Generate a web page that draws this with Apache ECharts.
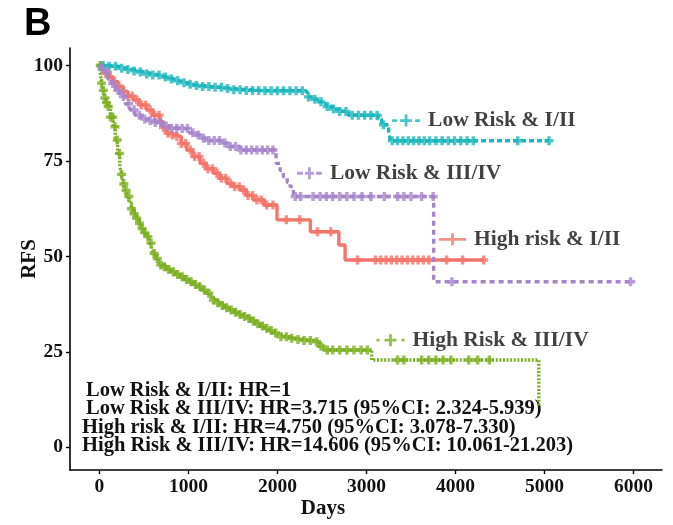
<!DOCTYPE html>
<html>
<head>
<meta charset="utf-8">
<script src="https://cdn.jsdelivr.net/npm/echarts@6/dist/echarts.min.js"></script>
<style>
html,body{margin:0;padding:0;background:#fff;}
#chart{width:673px;height:525px;}
</style>
</head>
<body>
<div id="chart"></div>
<script>
// ---------------- DATA ----------------
const xTicks = [0, 1000, 2000, 3000, 4000, 5000, 6000];
const yTicks = [0, 25, 50, 75, 100];

const groupNames = ['High risk & I/II', 'High Risk & III/IV', 'Low Risk & I/II', 'Low Risk & III/IV'];

// Kaplan-Meier curves: [days, RFS %] (value after the step at that time)
const redCurve = [[0,100],[30,99],[62,98],[100,97],[155,95.8],[210,94.5],[268,93.2],[320,92],[380,91],[450,89.7],[531,88.4],[600,87],[680,85.3],[720,83.8],[756,82.3],[810,81.8],[868,81.4],[920,79.6],[981,77.9],[1050,76.2],[1130,74.4],[1200,73],[1280,71.8],[1350,70.5],[1431,69.2],[1500,68.3],[1580,67.4],[1650,66],[1730,64.8],[1850,63.5],[1995,59.6],[2370,56.5],[2690,53],[2760,49.1],[4320,49.1]];
const greenCurve = [[0,100],[12,97.5],[25,95.4],[45,93.5],[62,91.5],[80,90.3],[99,89.3],[125,86.5],[155,84],[180,80.5],[205,77],[230,73.5],[250,71.5],[270,69],[290,67.3],[306,65.7],[335,64],[360,62.5],[390,61.2],[418,60],[445,58.7],[475,57.3],[505,56.2],[531,55.2],[560,53.5],[585,52],[605,50.8],[635,49.5],[665,48.3],[690,47.8],[718,47.3],[760,46.6],[810,46],[860,45.3],[905,44.7],[955,44],[1000,43.4],[1050,42.7],[1093,42.1],[1140,41.2],[1190,40.4],[1240,39.5],[1280,38.6],[1330,37.9],[1380,37.2],[1420,36.6],[1468,36],[1515,35.4],[1560,34.8],[1610,34.3],[1656,33.8],[1700,33.1],[1750,32.4],[1800,31.8],[1842,31.2],[1890,30.6],[1940,30],[1990,29.5],[2030,29],[2120,28.6],[2200,28.3],[2300,28],[2405,27.7],[2470,26.5],[2520,25.5],[3060,22.9],[4936,10.6]];
const tealCurve = [[0,100],[100,99.8],[200,99.3],[300,99],[380,98.6],[450,98.3],[530,97.8],[600,97.5],[680,97],[750,96.5],[830,96],[900,95.5],[980,95.1],[1050,94.8],[1150,94.5],[1250,94.3],[1380,94],[1500,93.7],[1650,93.5],[1800,93.4],[2300,93.2],[2335,91.8],[2400,91.2],[2450,90.5],[2500,89.9],[2550,89.3],[2620,88.6],[2700,88],[2800,87],[3130,86],[3170,84.5],[3250,82.5],[3270,80.3],[5050,80.3]];
const purpleCurve = [[0,100],[30,99.2],[60,98.2],[95,96.5],[137,95.3],[180,93.5],[230,91.9],[290,90],[343,88.4],[400,87],[470,86],[531,85.6],[600,85.1],[700,84.2],[793,83.6],[905,83.5],[1000,82.4],[1060,81.8],[1130,81],[1230,80.4],[1355,79.7],[1460,78.8],[1580,77.9],[1985,74.4],[2030,72.5],[2067,70.9],[2110,69.4],[2143,68.3],[2180,65.7],[3755,43.4],[5970,43.4]];

// censoring times (days)
const redCensor = [20,70,120,170,220,270,320,370,420,470,520,570,620,670,720,770,820,870,920,970,1020,1070,1120,1170,1220,1270,1320,1370,1420,1470,1520,1570,1620,1670,1720,1770,1820,1880,1950,2100,2250,2450,2600,2900,3100,3160,3220,3280,3340,3400,3460,3520,3580,3640,3700,3900,4080,4317];
const greenCensor = [10,25,45,62,80,99,125,150,175,200,225,250,275,300,330,360,390,420,450,480,510,545,580,615,650,690,730,780,830,880,930,980,1030,1080,1130,1180,1230,1280,1330,1380,1430,1480,1530,1580,1630,1680,1730,1780,1830,1880,1930,1980,2040,2100,2160,2230,2300,2370,2440,2490,2560,2620,2700,2780,2860,2940,3010,3350,3420,3620,3700,3780,3860,3950,4150,4250,4380];
const tealCensor = [40,110,180,250,320,390,460,530,600,670,740,810,880,950,1020,1090,1160,1230,1300,1370,1440,1510,1580,1650,1720,1790,1860,1930,2000,2070,2140,2210,2280,2350,2420,2490,2560,2630,2700,2770,2840,2910,2980,3050,3120,3190,3290,3350,3410,3470,3530,3590,3650,3710,3780,3850,3920,3990,4060,4130,4200,4700,5050];
const purpleCensor = [30,90,150,210,270,330,390,450,510,570,630,690,750,810,870,930,990,1050,1110,1170,1230,1290,1350,1410,1470,1530,1590,1650,1710,1770,1830,1890,1950,2200,2260,2400,2480,2550,2620,2700,2780,2860,2950,3050,3200,3350,3420,3500,3620,3750,3960,5967];

const hrLines = [
  'Low Risk & I/II: HR=1',
  'Low Risk & III/IV: HR=3.715 (95%CI: 2.324-5.939)',
  'High risk & I/II: HR=4.750 (95%CI: 3.078-7.330)',
  'High Risk & III/IV: HR=14.606 (95%CI: 10.061-21.203)'
];

// ---------------- STYLE / LAYOUT ----------------
const colors = ['#F2766C', '#7BAE1F', '#1DB6BD', '#A584C9'];
const dashes = ['solid', [2, 1.6], [5, 3], [5, 4]];
const curves = [redCurve, greenCurve, tealCurve, purpleCurve];
const censors = [redCensor, greenCensor, tealCensor, purpleCensor];
// direct-label anchors (data coords)
const labelAnchors = [[3967, 54.5], [3270, 28.1], [3445, 85.6], [2359, 71.8]];
const labelSymbols = [
  'path://M0,4.6h27v2.8h-27z M12.1,0h2.8v12h-2.8z',
  'path://M0,4.6h3v2.8h-3z M8,4.6h12v2.8h-12z M12.6,0h2.8v12h-2.8z M25,4.6h3v2.8h-3z',
  'path://M0,4.6h5v2.8h-5z M8,4.6h12v2.8h-12z M12.6,0h2.8v12h-2.8z M23,4.6h5v2.8h-5z',
  'path://M0,4.6h6v2.8h-6z M8,4.6h9v2.8h-9z M11.1,0h2.8v12h-2.8z M19,4.6h6v2.8h-6z'
];
const labelSizes = [[27, 12], [28, 12], [28, 12], [25, 12]];
const plusPath = 'path://M3.1,0h3.8v10h-3.8z M0,3.1h10v3.8h-10z';
const serif = '"Liberation Serif", "Times New Roman", serif';

function stepAt(curve, t) {
  let v = curve[0][1];
  for (const p of curve) { if (p[0] <= t) v = p[1]; else break; }
  return v;
}

const series = [];
curves.forEach((c, i) => {
  series.push({
    name: groupNames[i], type: 'line', step: 'end', data: c,
    showSymbol: false, symbol: 'none', silent: true, z: 2 + i,
    lineStyle: { color: colors[i], width: 3.4, type: dashes[i] }
  });
});
censors.forEach((cs, i) => {
  series.push({
    name: groupNames[i] + ' censor', type: 'scatter', silent: true, z: 2 + i,
    data: cs.map(t => [t, stepAt(curves[i], t)]),
    symbol: plusPath, symbolSize: 9,
    itemStyle: { color: colors[i] }
  });
});
labelAnchors.forEach((a, i) => {
  series.push({
    name: groupNames[i] + ' label', type: 'scatter', silent: true, z: 10,
    data: [{ value: a, name: groupNames[i] }],
    symbol: labelSymbols[i], symbolSize: labelSizes[i],
    itemStyle: { color: colors[i] },
    label: {
      show: true, position: 'right', distance: 8, formatter: '{b}',
      fontFamily: serif, fontWeight: 'bold', fontSize: 21.5, color: '#111'
    }
  });
});

const hrX = [86, 86, 82, 82];
const hrY = [390.7, 409, 427.3, 445.7];
const graphics = hrLines.map((s, i) => ({
  type: 'text', x: hrX[i], y: hrY[i], silent: true,
  style: { text: s, font: 'bold 20.5px ' + serif, fill: '#111', textVerticalAlign: 'middle' }
}));
graphics.push({
  type: 'text', x: 323, y: 509, silent: true,
  style: { text: 'Days', font: 'bold 21px ' + serif, fill: '#111', textAlign: 'center', textVerticalAlign: 'middle' }
});
graphics.push({
  type: 'text', x: 30, y: 259, rotation: Math.PI / 2, silent: true,
  style: { text: 'RFS', font: 'bold 21px ' + serif, fill: '#111', textAlign: 'center', textVerticalAlign: 'middle' }
});
graphics.push({
  type: 'text', x: 24, y: 6, silent: true,
  style: { text: 'B', font: 'bold 38px "Liberation Sans", Arial, sans-serif', fill: '#000', textVerticalAlign: 'top' }
});

const axisCommon = {
  axisLine: { show: true, onZero: false, lineStyle: { color: '#000', width: 1.6 } },
  axisTick: { show: true, length: 4, lineStyle: { color: '#000', width: 1.4 } },
  splitLine: { show: false },
  axisLabel: { margin: 7, fontFamily: serif, fontWeight: 'bold', fontSize: 19.5, color: '#111', formatter: v => String(v) }
};

const option = {
  animation: false,
  backgroundColor: '#fff',
  grid: { left: 70, right: 11, top: 48, bottom: 55, containLabel: false },
  xAxis: Object.assign({}, axisCommon, {
    type: 'value', min: -330, max: 6320,
    axisTick: Object.assign({}, axisCommon.axisTick, { customValues: xTicks }),
    axisLabel: Object.assign({}, axisCommon.axisLabel, { customValues: xTicks })
  }),
  yAxis: Object.assign({}, axisCommon, {
    type: 'value', min: -5.9, max: 104.6,
    axisTick: Object.assign({}, axisCommon.axisTick, { customValues: yTicks }),
    axisLabel: Object.assign({}, axisCommon.axisLabel, { customValues: yTicks })
  }),
  series: series,
  graphic: graphics
};

const chart = echarts.init(document.getElementById('chart'), null, { renderer: 'canvas' });
chart.setOption(option);
</script>
</body>
</html>
